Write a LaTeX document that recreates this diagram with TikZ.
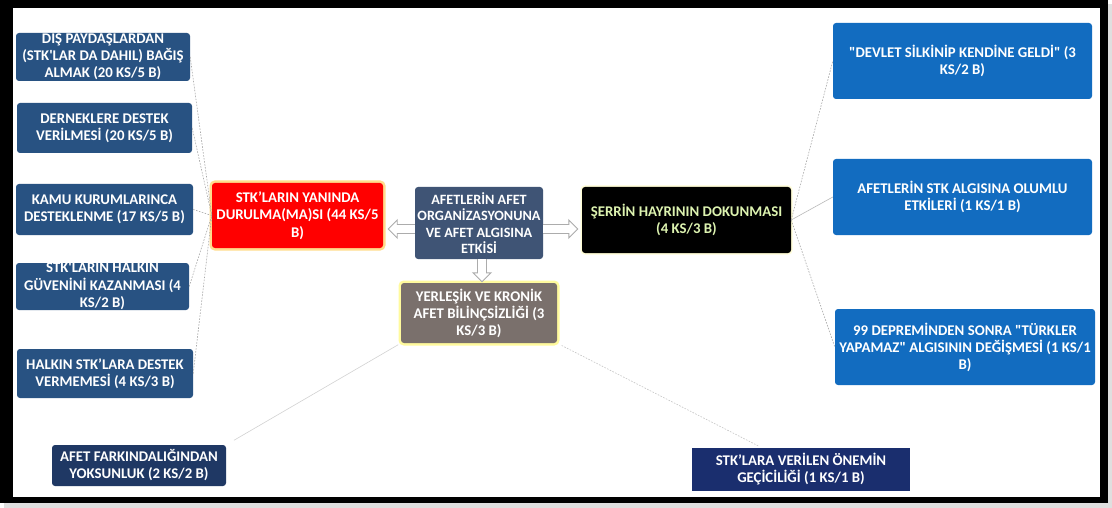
\documentclass[tikz,border=0pt]{standalone}
\usepackage{fontspec}
\setmainfont{Carlito}
\usetikzlibrary{calc}

\definecolor{steelbox}{HTML}{285282}
\definecolor{brightbox}{HTML}{126CC0}
\definecolor{navyA}{HTML}{1F3864}
\definecolor{navyB}{HTML}{1A2E6E}
\definecolor{slatebox}{HTML}{3F5475}
\definecolor{taupebox}{HTML}{7A706C}
\definecolor{glowtext}{HTML}{DDF3B0}
\definecolor{linkgray}{HTML}{A8A8A8}

% text that is allowed to run past the edges of its box
\newcommand\ovf[1]{\smash{\raisebox{-0.5ex}{\begin{tabular}{@{}c@{}}#1\end{tabular}}}}

\begin{document}
\begin{tikzpicture}[x=1pt,y=-1pt,
  basebox/.style={rounded corners=3pt, text=white, align=center, inner sep=2pt,
    font=\bfseries\fontsize{14.8}{17}\selectfont},
  lbox/.style={basebox, fill=steelbox},
  rbox/.style={basebox, fill=brightbox},
  glowred/.style={basebox, fill=red,
    preaction={draw=orange!60!yellow, draw opacity=0.45, line width=5pt}},
  glowyellow/.style={basebox, fill=taupebox,
    preaction={draw=yellow!70, draw opacity=0.55, line width=5pt}},
  blackbox/.style={basebox, fill=black, text=glowtext,
    preaction={draw=yellow!40, draw opacity=0.4, line width=3pt}},
  link/.style={draw=linkgray, line width=0.6pt, dash pattern=on 1.6pt off 1.4pt},
  solidlink/.style={draw=linkgray!80, line width=0.6pt},
  blockarrow/.style={draw=gray!65, fill=white, line width=0.9pt, line join=miter},
]
\useasboundingbox (0,0) rectangle (1112,508);

% frame with its soft shadow
\fill[gray!25] (4,4) rectangle (1112,508);
\fill[black] (0,0) rectangle (1108,503);
\fill[white] (13,8) rectangle (1100,497);

% left branch
\node[lbox, minimum width=174, minimum height=48] (b1) at (103,57)
  {\ovf{DIŞ PAYDAŞLARDAN\\(STK\textquotesingle LAR DA DAHIL) BAĞIŞ\\ALMAK (20 KS/5 B)}};
\node[lbox, minimum width=175, minimum height=50] (b2) at (104.5,128)
  {DERNEKLERE DESTEK\\VERİLMESİ (20 KS/5 B)};
\node[lbox, minimum width=177, minimum height=51] (b3) at (104.5,209.5)
  {KAMU KURUMLARINCA\\DESTEKLENME (17 KS/5 B)};
\node[lbox, minimum width=173, minimum height=47] (b4) at (102.5,286.5)
  {\ovf{STK\textquotesingle LARIN HALKIN\\GÜVENİNİ KAZANMASI (4\\KS/2 B)}};
\node[lbox, minimum width=176, minimum height=49] (b5) at (105,373.5)
  {HALKIN STK’LARA DESTEK\\VERMEMESİ (4 KS/3 B)};

\node[glowred, minimum width=171, minimum height=65,
  font=\bfseries\fontsize{14.8}{17.5}\selectfont] (red) at (297.5,215.5)
  {STK’LARIN YANINDA\\DURULMA(MA)SI (44 KS/5\\B)};

% centre
\node[basebox, fill=slatebox, minimum width=128, minimum height=72,
  font=\bfseries\fontsize{14.2}{16.5}\selectfont] (ce) at (479,223)
  {AFETLERİN AFET\\ORGANİZASYONUNA\\VE AFET ALGISINA\\ETKİSİ};
\node[glowyellow, minimum width=156, minimum height=60] (ye) at (479,313)
  {YERLEŞİK VE KRONİK\\AFET BİLİNÇSİZLİĞİ (3\\KS/3 B)};
\node[blackbox, minimum width=209, minimum height=66] (bk) at (686.5,220)
  {ŞERRİN HAYRININ DOKUNMASI\\(4 KS/3 B)};

% right branch
\node[rbox, minimum width=259, minimum height=76] (r1) at (962.5,61)
  {\textquotedbl DEVLET SİLKİNİP KENDİNE GELDİ\textquotedbl{} (3\\KS/2 B)};
\node[rbox, minimum width=259, minimum height=76] (r2) at (962.5,197)
  {AFETLERİN STK ALGISINA OLUMLU\\ETKİLERİ (1 KS/1 B)};
\node[rbox, minimum width=260, minimum height=76] (r3) at (965,347)
  {99 DEPREMİNDEN SONRA \textquotedbl TÜRKLER\\YAPAMAZ\textquotedbl{} ALGISININ DEĞİŞMESİ (1 KS/1\\B)};

% lower branch
\node[basebox, fill=navyA, minimum width=174, minimum height=41] (bl) at (139,465.5)
  {AFET FARKINDALIĞINDAN\\YOKSUNLUK (2 KS/2 B)};
\node[basebox, fill=navyB, rounded corners=0pt, minimum width=218, minimum height=43] (br) at (801,469.5)
  {STK’LARA VERİLEN ÖNEMİN\\GEÇİCİLİĞİ (1 KS/1 B)};

% links
\foreach \b in {b1,b2,b3,b4,b5} \draw[link] (\b.east) -- (red.west);
\draw[link] (bk.east) -- (r1.west);
\draw[solidlink] (bk.east) -- (r2.west);
\draw[link] (bk.east) -- (r3.west);
\draw[solidlink, draw=gray!35, shorten <=3pt, shorten >=9pt] (ye.south west) -- (bl.north east);
\draw[link, draw=gray!45, shorten <=5pt, shorten >=3pt] (ye.south east) -- ([xshift=-39pt]br.north);

% hollow block arrows out of the centre
\draw[blockarrow] let \p1=([yshift=-6pt]ce.west), \p2=([xshift=5pt]red.east) in
  (\x1,\y1+4.5pt) -- (\x2+9pt,\y1+4.5pt) -- (\x2+9pt,\y1+9pt) -- (\x2,\y1)
  -- (\x2+9pt,\y1-9pt) -- (\x2+9pt,\y1-4.5pt) -- (\x1,\y1-4.5pt);
\draw[blockarrow] let \p1=([yshift=-6pt]ce.east), \p2=([xshift=-4pt]bk.west) in
  (\x1,\y1+4.5pt) -- (\x2-9pt,\y1+4.5pt) -- (\x2-9pt,\y1+9pt) -- (\x2,\y1)
  -- (\x2-9pt,\y1-9pt) -- (\x2-9pt,\y1-4.5pt) -- (\x1,\y1-4.5pt);
\draw[blockarrow] let \p1=([xshift=3pt]ce.south), \p2=([yshift=1pt]ye.north) in
  (\x1-4.5pt,\y1) -- (\x1-4.5pt,\y2+9pt) -- (\x1-9pt,\y2+9pt) -- (\x1,\y2)
  -- (\x1+9pt,\y2+9pt) -- (\x1+4.5pt,\y2+9pt) -- (\x1+4.5pt,\y1);
\end{tikzpicture}
\end{document}
